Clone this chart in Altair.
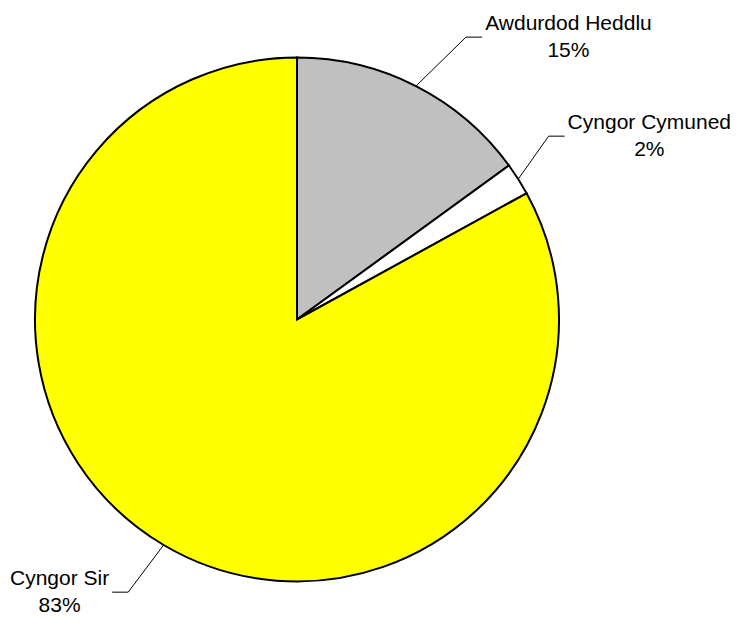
import math
import altair as alt
import pandas as pd

# ---- data ----
categories = ["Awdurdod Heddlu", "Cyngor Cymuned", "Cyngor Sir"]
shares = [15, 2, 83]
colors = ["#C0C0C0", "#FFFFFF", "#FFFF00"]

# ---- label layout (leader-line placement, not data) ----
label_angle_nudge = [3.9, -3.0, 0.2]
label_radius_factor = [1.256, 1.208, 1.268]

W, H = 725, 610
CX, CY = 289, 311.5
R = 262
FONT = 21
SEG = 16
GAP = 3
UP, DOWN = 7, 20   # baseline offsets of the two label lines from the leader end
DESC = FONT * 0.23

# Arial-like advance widths (per 1000 em) for estimating label widths
_w = {" ": 278, "%": 889, "A": 667, "C": 722, "H": 722, "S": 667, "a": 556,
      "d": 556, "e": 556, "g": 556, "i": 222, "l": 222, "m": 833, "n": 556,
      "o": 556, "r": 333, "u": 556, "w": 722, "y": 500}


def text_w(s):
    return sum(_w.get(c, 556) for c in s) / 1000 * FONT


total = sum(shares)
pie_rows, seg_rows, lab_rows = [], [], []
cum = 0
for i, (cat, v) in enumerate(zip(categories, shares)):
    a0 = cum / total * 360
    cum += v
    a1 = cum / total * 360
    mid = (a0 + a1) / 2
    pie_rows.append({"category": cat, "share": v, "idx": i})
    m = math.radians(mid)
    p0x, p0y = CX + R * math.sin(m), CY - R * math.cos(m)
    la = math.radians(mid + label_angle_nudge[i])
    rr = R * label_radius_factor[i]
    p1x, p1y = CX + rr * math.sin(la), CY - rr * math.cos(la)
    d = 1 if math.sin(la) >= 0 else -1
    pct = f"{round(v / total * 100)}%"
    wmax = max(text_w(cat), text_w(pct))
    # keep the whole label block inside the drawing area
    far = p1x + d * (SEG + GAP + wmax)
    if far > W - 2:
        p1x -= far - (W - 2)
    if far < 2:
        p1x += 2 - far
    bottom = p1y + DOWN + DESC
    if bottom > H - 1:
        p1y -= bottom - (H - 1)
    top = p1y - UP - FONT * 0.95
    if top < 1:
        p1y += 1 - top
    p2x, p2y = p1x + d * SEG, p1y
    seg_rows.append({"x": p0x, "y": p0y, "x2": p1x, "y2": p1y})
    seg_rows.append({"x": p1x, "y": p1y, "x2": p2x, "y2": p2y})
    tx = p2x + d * (GAP + wmax / 2)
    lab_rows.append({"x": tx, "y": p2y - UP, "text": cat})
    lab_rows.append({"x": tx, "y": p2y + DOWN, "text": pct})

pie_df = pd.DataFrame(pie_rows)
seg_df = pd.DataFrame(seg_rows)
lab_df = pd.DataFrame(lab_rows)

xs = alt.Scale(domain=[0, W], nice=False, zero=False)
ys = alt.Scale(domain=[0, H], nice=False, zero=False, reverse=True)

pie = alt.Chart(pie_df).mark_arc(radius=R, stroke="black", strokeWidth=2).encode(
    theta=alt.Theta("share:Q", stack=True),
    color=alt.Color("category:N", scale=alt.Scale(domain=categories, range=colors), legend=None),
    order=alt.Order("idx:Q"),
    x=alt.value(CX),
    y=alt.value(CY),
)

rules = alt.Chart(seg_df).mark_rule(color="black", strokeWidth=1).encode(
    x=alt.X("x:Q", scale=xs, axis=None),
    y=alt.Y("y:Q", scale=ys, axis=None),
    x2="x2:Q",
    y2="y2:Q",
)

labels = alt.Chart(lab_df).mark_text(
    font="Liberation Sans", fontSize=FONT, align="center", baseline="alphabetic", color="black"
).encode(
    x=alt.X("x:Q", scale=xs, axis=None),
    y=alt.Y("y:Q", scale=ys, axis=None),
    text="text:N",
)

chart = alt.layer(pie, rules, labels).properties(
    width=W, height=H, padding=0, autosize=alt.AutoSizeParams(type="none")
).configure_view(stroke=None)

chart.save("out.html", embed_options={"renderer": "svg", "actions": False})
